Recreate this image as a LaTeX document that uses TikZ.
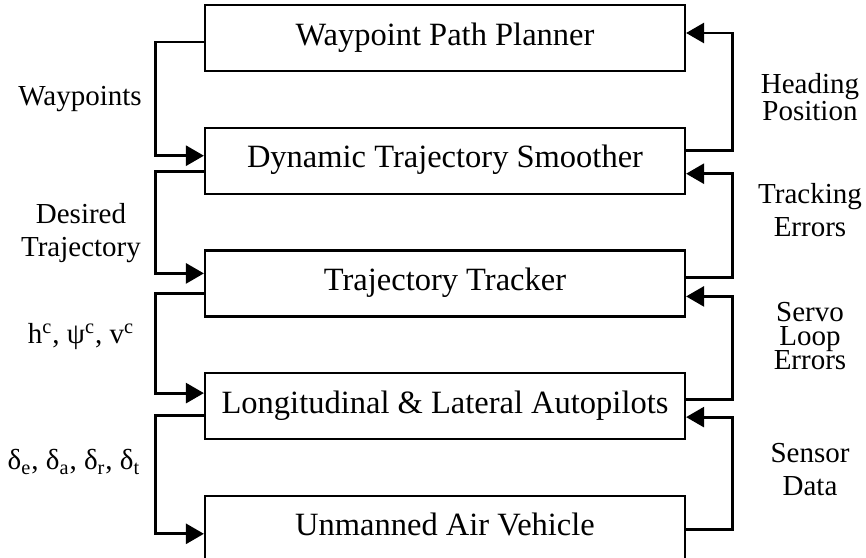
\documentclass[tikz,border=0pt]{standalone}
\usepackage{fontspec}
\setmainfont{Liberation Serif}
\usetikzlibrary{arrows.meta,positioning}

\begin{document}
\begin{tikzpicture}[x=0.5pt,y=-0.5pt,
  block/.style={draw,line width=1.1pt,minimum width=240pt,minimum height=33pt,inner sep=0pt,text height=0.8em,text depth=0.1em,font=\fontsize{16.25pt}{18pt}\selectfont},
  signal/.style={font=\fontsize{14.5pt}{16.5pt}\selectfont,align=center},
  flow/.style={line width=1.4pt,-{Triangle[length=9pt,width=10pt]}},
  node distance=27.25pt]
\useasboundingbox (0,0) rectangle (866,557);
\node[block] (wpp) at (445,38) {Waypoint Path Planner};
\node[block,below=of wpp] (dts) {Dynamic Trajectory Smoother};
\node[block,below=of dts] (tt) {Trajectory Tracker};
\node[block,below=of tt] (lla) {Longitudinal \& Lateral Autopilots};
\node[block,below=of lla] (uav) {Unmanned Air Vehicle};

\draw[flow] ([yshift=-2pt]wpp.west) -- ++(-24.25pt,0) |- ([yshift=2.5pt]dts.west);
\draw[flow] ([yshift=-5.5pt]dts.west) -- ++(-24.25pt,0) |- ([yshift=5pt]tt.west);
\draw[flow] ([yshift=-5pt]tt.west) -- ++(-24.25pt,0) |- ([yshift=6.5pt]lla.west);
\draw[flow] ([yshift=-4.5pt]lla.west) -- ++(-24.25pt,0) |- ([yshift=-2.5pt]uav.west);

\draw[flow] ([yshift=5pt]dts.east) -- ++(23pt,0) |- ([yshift=2.5pt]wpp.east);
\draw[flow] ([yshift=3pt]tt.east) -- ++(23pt,0) |- ([yshift=-6.5pt]dts.east);
\draw[flow] ([yshift=3.5pt]lla.east) -- ++(23pt,0) |- ([yshift=-6.5pt]tt.east);
\draw[flow] ([yshift=-0.5pt]uav.east) -- ++(23pt,0) |- ([yshift=-5.5pt]lla.east);

\node[signal] (wp) at (80,99) {Waypoints};
\node[signal] (dt) at (81,233) {Desired\\Trajectory};
\node[signal] (cmd) at (81,337) {h\textsuperscript{c}, ψ\textsuperscript{c}, v\textsuperscript{c}};
\node[signal] (defl) at (74,462) {δ\textsubscript{e}, δ\textsubscript{a}, δ\textsubscript{r}, δ\textsubscript{t}};

\node[signal] (hp) at (810,97) {Heading\\[-3pt]Position};
\node[signal] (te) at (810,210) {Tracking\\Errors};
\node[signal] (sle) at (810,336) {Servo\\[-4.5pt]Loop\\[-4.5pt]Errors};
\node[signal] (sd) at (810,470) {Sensor\\Data};
\end{tikzpicture}
\end{document}
